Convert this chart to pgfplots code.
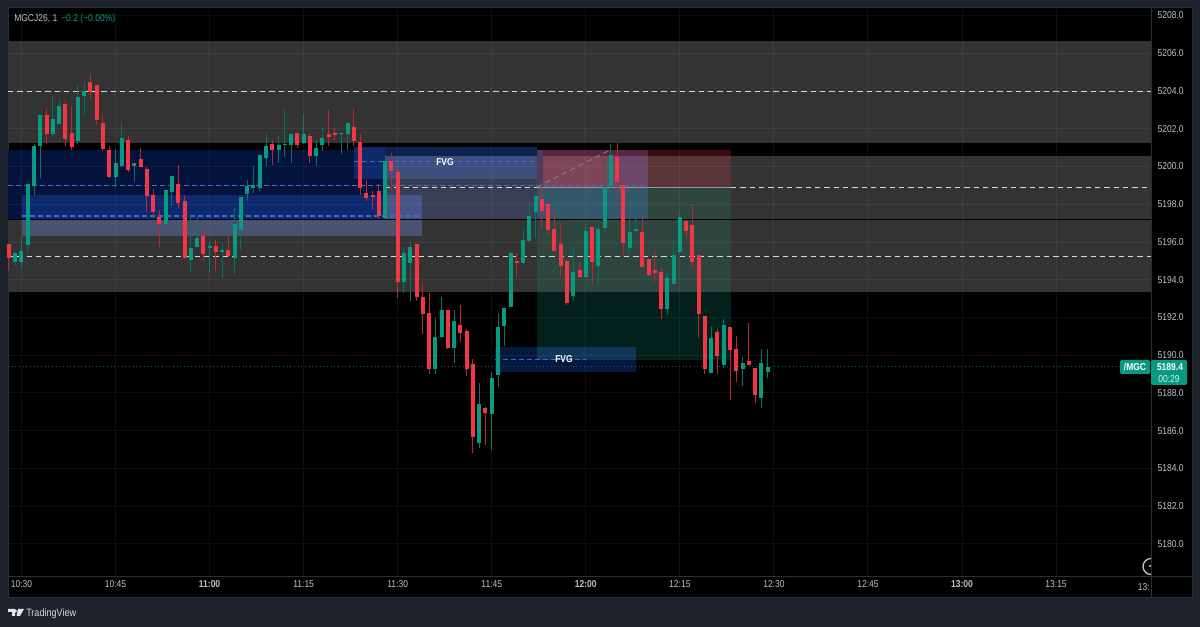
\documentclass[border=0pt]{standalone}
\usepackage{pgfplots}
\usepackage{pgfplotstable}
\usepackage{fontspec}
\setmainfont[FakeStretch=0.85]{Liberation Sans}
\pgfplotsset{compat=1.18}
\definecolor{paneBg}{HTML}{1E222D}
\definecolor{paneBorder}{HTML}{2A2E39}
\definecolor{axText}{HTML}{BEC1C9}
\definecolor{upC}{HTML}{089981}
\definecolor{downC}{HTML}{F23645}
\definecolor{fvgDash}{HTML}{3F6BD0}
\pgfplotstableread{
t top bot hi lo
-2 5195.89 5195.15 5195.89 5194.48
4 5202.71 5201.74 5203.08 5201.19
7 5203.29 5201.44 5203.49 5201.10
8 5201.77 5201.05 5203.20 5200.87
11 5204.47 5203.94 5204.90 5203.52
12 5204.30 5202.46 5204.30 5202.20
13 5202.28 5200.92 5202.71 5200.82
14 5200.87 5199.46 5201.10 5199.37
17 5201.40 5199.83 5201.61 5199.71
19 5200.39 5199.97 5200.98 5199.97
20 5199.87 5198.45 5199.99 5197.60
21 5198.49 5197.57 5198.79 5197.38
22 5197.30 5196.95 5197.69 5195.71
25 5199.07 5198.08 5200.09 5197.78
26 5198.19 5195.15 5198.49 5195.08
29 5196.31 5195.38 5196.60 5194.99
31 5195.79 5195.45 5196.10 5194.48
33 5195.57 5195.26 5196.31 5195.26
40 5201.19 5200.85 5201.40 5200.09
44 5201.77 5201.14 5201.77 5200.98
46 5201.61 5200.55 5201.79 5200.18
49 5201.70 5201.56 5202.99 5201.10
50 5201.77 5201.67 5202.09 5201.40
53 5202.09 5201.35 5203.10 5201.10
54 5201.28 5198.88 5201.70 5198.49
55 5198.59 5198.35 5199.30 5198.19
56 5198.49 5198.36 5198.70 5197.76
57 5198.70 5197.37 5199.07 5197.20
59 5200.29 5199.76 5200.69 5198.70
60 5199.70 5193.86 5199.99 5193.03
63 5195.87 5193.06 5195.87 5192.89
64 5193.08 5192.18 5193.81 5191.12
65 5192.22 5189.29 5193.28 5189.00
68 5192.38 5190.36 5192.38 5190.33
70 5191.58 5191.17 5192.66 5190.70
71 5191.28 5189.27 5191.40 5188.90
72 5189.51 5185.65 5189.78 5184.80
74 5187.20 5186.94 5187.27 5185.22
79 5194.99 5194.87 5195.41 5194.12
83 5198.27 5197.64 5198.89 5196.68
84 5197.99 5196.63 5197.99 5196.37
85 5196.68 5195.54 5197.69 5195.54
86 5195.89 5194.72 5196.99 5194.21
87 5194.99 5192.75 5194.99 5192.66
89 5194.50 5194.14 5194.90 5194.14
91 5196.81 5194.94 5196.81 5193.81
95 5200.50 5199.18 5201.26 5198.57
96 5199.00 5195.96 5199.00 5195.20
99 5196.53 5194.65 5197.30 5194.65
100 5195.08 5194.23 5195.08 5194.18
101 5194.50 5194.37 5195.50 5193.88
102 5194.41 5192.46 5194.62 5191.93
106 5197.11 5196.56 5197.11 5196.21
107 5196.90 5194.95 5197.99 5194.62
108 5195.29 5192.18 5195.29 5190.91
109 5192.08 5189.27 5192.08 5189.00
111 5191.21 5189.94 5191.39 5189.02
113 5191.49 5190.27 5191.49 5187.63
114 5190.33 5189.14 5191.00 5188.58
116 5189.69 5189.46 5191.70 5189.46
117 5189.30 5187.89 5189.30 5187.48
}\downtable
\pgfplotstableread{
t top bot hi lo
-1 5195.40 5194.96 5195.49 5194.78
0 5195.50 5194.96 5196.32 5194.69
1 5199.07 5195.84 5199.07 5195.49
2 5201.08 5198.96 5201.19 5198.49
3 5202.71 5201.08 5202.71 5199.37
5 5202.50 5201.74 5203.70 5201.61
6 5203.20 5202.25 5203.59 5202.25
9 5203.68 5201.35 5204.32 5201.19
10 5204.02 5203.75 5204.47 5202.78
15 5200.17 5199.46 5200.91 5198.93
16 5201.49 5200.04 5202.28 5199.99
18 5200.17 5200.04 5200.17 5199.19
23 5198.77 5196.93 5198.77 5196.90
24 5199.49 5198.66 5199.49 5197.90
27 5195.70 5195.04 5197.43 5194.43
28 5196.21 5195.75 5197.34 5195.75
30 5195.79 5195.66 5195.98 5194.43
32 5195.57 5195.47 5195.89 5194.11
34 5196.97 5195.17 5197.78 5194.28
35 5198.40 5196.65 5198.40 5195.57
36 5198.98 5198.54 5199.28 5198.19
37 5199.00 5198.88 5200.02 5198.58
38 5200.61 5198.88 5200.61 5198.70
39 5201.10 5200.47 5201.70 5200.02
41 5201.12 5200.85 5201.61 5200.18
42 5201.19 5201.14 5202.99 5200.52
43 5201.70 5201.15 5201.79 5200.18
45 5201.70 5201.22 5202.78 5201.19
47 5200.98 5200.55 5201.40 5200.01
48 5201.51 5201.14 5202.09 5200.82
51 5201.77 5201.74 5201.77 5200.68
52 5202.30 5201.72 5202.30 5200.89
58 5200.31 5197.25 5200.61 5197.25
61 5195.40 5193.86 5195.71 5193.31
62 5195.71 5194.87 5196.00 5192.89
66 5190.98 5189.27 5191.99 5189.00
67 5192.38 5190.95 5193.06 5190.91
69 5191.79 5190.36 5192.38 5189.60
73 5187.40 5185.35 5188.51 5185.10
75 5188.79 5186.87 5189.09 5184.99
76 5191.49 5188.97 5192.22 5188.30
77 5192.50 5191.55 5192.50 5190.49
78 5195.41 5192.57 5195.48 5192.57
80 5196.08 5194.87 5196.68 5194.80
81 5197.39 5196.05 5198.10 5196.05
82 5198.42 5197.57 5198.57 5196.23
88 5194.39 5193.14 5195.78 5192.87
90 5196.60 5194.14 5196.77 5194.14
92 5196.68 5194.72 5196.88 5193.84
93 5198.93 5196.76 5200.31 5196.51
94 5200.61 5198.96 5201.19 5198.72
97 5196.51 5195.68 5197.60 5195.41
98 5196.68 5196.56 5198.42 5196.56
103 5194.11 5192.46 5194.50 5192.20
104 5195.31 5193.79 5196.08 5193.79
105 5197.30 5195.45 5197.48 5195.40
110 5190.91 5189.06 5191.51 5189.06
112 5191.58 5189.48 5191.92 5189.32
115 5189.59 5189.27 5189.89 5188.37
118 5189.59 5187.73 5190.31 5187.20
119 5189.37 5189.13 5190.31 5188.79
}\uptable
\newcommand{\bandc}[5]{\definecolor{c#5}{HTML}{#5}\addplot[draw=none,fill=c#5,forget plot] coordinates {(#1,#3)(#2,#3)(#2,#4)(#1,#4)} --cycle;}
\newcommand{\hln}[4]{\addplot[forget plot,#4] coordinates {(#1,#3)(#2,#3)};}
\tikzset{px/.style={x=.75pt,y=-.75pt,yshift=470.25pt}}
\begin{document}
\begin{tikzpicture}
\begin{scope}[px]
\fill[paneBg] (0,0) rectangle (1200,627);
\fill[black,draw=paneBorder,line width=.75pt] (8,8) rectangle (1192,598);
\end{scope}
\begin{axis}[
  at={(6pt,37.5pt)},anchor=south west,
  scale only axis,width=857.25pt,height=426.75pt,
  xmin=-2.15,xmax=180.14,ymin=5178.25,ymax=5208.4,
  clip=false,axis on top,
  axis line style={draw=none},
  major tick length=0pt,
  grid=major,grid style={white,opacity=0.055,line width=.75pt},
  xtick={0,15,30,45,60,75,90,105,120,135,150,165},
  xticklabels={10:30,10:45,\textbf{11:00},11:15,11:30,11:45,\textbf{12:00},12:15,12:30,12:45,\textbf{13:00},13:15},
  ytick={5180,5182,5184,5186,5188,5190,5192,5194,5196,5198,5200,5202,5204,5206,5208},
  yticklabels={5180.0,5182.0,5184.0,5186.0,5188.0,5190.0,5192.0,5194.0,5196.0,5198.0,5200.0,5202.0,5204.0,5206.0,5208.0},
  yticklabel pos=right,
  tick label style={font=\fontsize{7.5pt}{9pt}\selectfont,text=axText},
  yticklabel style={anchor=west,xshift=1.5pt},
  xticklabel style={anchor=base,yshift=-8pt},
]
\bandc{-2.15}{180.14}{5201.25}{5206.65}{333333}
\bandc{-2.15}{180.14}{5193.35}{5200.56}{333333}
% first gap zone
\bandc{-2.15}{57.97}{5197.20}{5200.87}{04133C}
\bandc{57.97}{82.22}{5197.20}{5199.34}{3A3F55}
% FVG above
\bandc{53.03}{57.97}{5199.34}{5201.03}{0E2A6B}
\bandc{57.97}{82.22}{5199.34}{5200.56}{3E4E7E}
\bandc{57.97}{82.22}{5200.56}{5201.03}{0C2350}
% second gap zone
\bandc{0.08}{57.97}{5197.20}{5198.49}{0D2A6E}
\bandc{57.97}{63.87}{5197.20}{5198.49}{465686}
\bandc{0.08}{63.87}{5196.32}{5197.20}{4A5270}
% position box
\bandc{82.22}{113.16}{5193.35}{5198.91}{2F453F}
\bandc{82.22}{113.16}{5189.75}{5193.35}{04201A}
\bandc{82.22}{113.16}{5198.91}{5200.56}{5A3538}
\bandc{82.22}{113.16}{5200.56}{5200.87}{3A0A10}
\bandc{82.22}{93.86}{5198.91}{5200.56}{7E4558}
\bandc{93.86}{99.92}{5198.91}{5200.56}{6A4668}
\bandc{82.22}{99.92}{5200.56}{5200.87}{5A2540}
\bandc{82.22}{83.2}{5198.91}{5200.87}{4E3A5A}
\bandc{82.22}{99.92}{5197.20}{5198.91}{33586C}
% FVG below
\bandc{75.52}{98}{5189.11}{5190.44}{05183F}
\bandc{82.22}{98}{5189.75}{5190.44}{0F3558}
% lines
\hln{-2.15}{180.14}{5197.20}{black,line width=1pt}
\hln{-2.15}{180.14}{5204.0}{white!85!black,dash pattern=on 4pt off 3pt,line width=.75pt}
\hln{-2.15}{180.14}{5195.21}{white!85!black,dash pattern=on 4pt off 3pt,line width=.75pt}
\hln{82.22}{113.16}{5198.91}{white!60!black,line width=.75pt}
\hln{-2.15}{99.92}{5198.97}{fvgDash,dash pattern=on 3.5pt off 2.5pt,line width=.75pt}
\hln{57.97}{82.22}{5198.91}{white!85!black,dash pattern=on 4pt off 3pt,line width=.75pt}
\hln{113.16}{180.14}{5198.91}{white!85!black,dash pattern=on 4pt off 3pt,line width=.75pt}
\hln{0.08}{63.87}{5197.38}{fvgDash,dash pattern=on 3.5pt off 2.5pt,line width=.9pt}
\hln{53.03}{82.22}{5200.24}{fvgDash,dash pattern=on 3.5pt off 2.5pt,line width=.75pt}
\hln{75.52}{90}{5189.80}{fvgDash,dash pattern=on 3.5pt off 2.5pt,line width=.75pt}
\hln{-2.15}{175.2}{5189.4}{upC!70!black,dotted,line width=.75pt}
\addplot[forget plot,gray,dash pattern=on 4pt off 3pt,line width=.75pt] coordinates {(82.22,5198.91)(93.86,5200.87)};
% candles
\addplot[draw=none,mark=none,forget plot,error bars/.cd,y dir=both,y explicit,error mark=none,error bar style={downC!75!black,line width=.75pt}]
  table[x=t,y=top,y error plus expr=\thisrow{hi}-\thisrow{top},y error minus expr=\thisrow{top}-\thisrow{lo}] {\downtable};
\addplot[draw=none,mark=none,forget plot,error bars/.cd,y dir=both,y explicit,error mark=none,error bar style={upC!75!black,line width=.75pt}]
  table[x=t,y=top,y error plus expr=\thisrow{hi}-\thisrow{top},y error minus expr=\thisrow{top}-\thisrow{lo}] {\uptable};
\addplot[draw=none,mark=none,forget plot,error bars/.cd,y dir=minus,y explicit,error mark=none,error bar style={downC,line width=3pt}]
  table[x=t,y=top,y error minus expr=\thisrow{top}-\thisrow{bot}] {\downtable};
\addplot[draw=none,mark=none,forget plot,error bars/.cd,y dir=minus,y explicit,error mark=none,error bar style={upC,line width=3pt}]
  table[x=t,y=top,y error minus expr=\thisrow{top}-\thisrow{bot}] {\uptable};
\end{axis}
\begin{scope}[px]
\draw[paneBorder,line width=.75pt] (8,577) -- (1192,577);
\draw[paneBorder,line width=.75pt] (1151,8) -- (1151,598);
\tikzset{lab/.style={inner sep=0pt,font=\fontsize{7.5pt}{9pt}\selectfont}}
\node[lab,anchor=west,text=axText] at (14,19) {MGCJ26, 1};
\node[lab,anchor=west,text=upC] at (61,19) {−0.2 (−0.00\%)};
\node[lab,text=white,font=\fontsize{7.5pt}{9pt}\selectfont\bfseries] at (445,162) {FVG};
\node[lab,text=white,font=\fontsize{7.5pt}{9pt}\selectfont\bfseries] at (564,359) {FVG};
\node[lab,anchor=east,text=axText] at (1150,587) {13:};
\fill[upC,rounded corners=1pt] (1120,360) rectangle (1150,374);
\fill[upC,rounded corners=1pt] (1151,360) rectangle (1187,385);
\node[lab,text=white,font=\fontsize{7.5pt}{9pt}\selectfont\bfseries] at (1135,367) {/MGC};
\node[lab,text=white,font=\fontsize{7.5pt}{9pt}\selectfont\bfseries] at (1170,367) {5189.4};
\node[lab,text=white!85!upC] at (1169,379) {00:29};
\draw[axText,line width=1pt] (1151,558.5) arc[start angle=270,end angle=90,radius=8];
\fill[orange] (1149,565.5) rectangle (1151,567.5);
% logo
\fill[white!90!black] (8,609) -- (15,609) -- (15,616) -- (12,616) -- (12,612) -- (8,612) -- cycle;
\fill[white!90!black] (15.5,611) circle (1.6);
\fill[white!90!black] (18,609) -- (24,609) -- (20,616) -- (16.5,616) -- cycle;
\node[lab,anchor=west,text=white!85!black,font=\fontsize{8pt}{9pt}\selectfont] at (26,613.5) {TradingView};
\end{scope}
\end{tikzpicture}
\end{document}
